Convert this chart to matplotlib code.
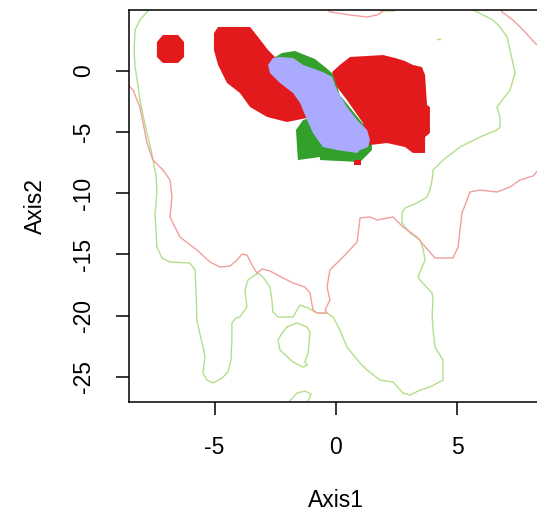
import matplotlib
matplotlib.use("Agg")
from matplotlib import pyplot as plt

plt.rcParams['font.family'] = ['Liberation Sans', 'DejaVu Sans']
plt.rcParams['axes.unicode_minus'] = False

# ---- filled regions (x, y in axis units) ----
red_small_x = [-7.13, -6.51, -6.26, -6.26, -6.51, -7.13, -7.38, -7.38]
red_small_y = [2.92, 2.92, 2.34, 1.12, 0.63, 0.63, 1.12, 2.34]

red_left_x = [-5.03, -4.86, -3.54, -3.21, -2.80, -2.39, -1.90, -1.28, -1.19,
              -2.02, -2.84, -3.54, -3.96, -4.49, -4.86, -5.03]
red_left_y = [3.08, 3.57, 3.57, 2.75, 1.69, 0.87, -0.76, -2.80, -3.86,
              -4.19, -3.78, -2.97, -1.82, -1.00, 0.47, 1.69]

red_right_x = [0.16, 0.58, 1.94, 2.43, 2.84, 3.17, 3.54, 3.67, 3.75, 3.87, 3.87,
               3.67, 3.67, 3.17, 2.84, 2.10, 1.40, 1.11, 0.45, 0.04, -0.16]
red_right_y = [0.47, 1.12, 1.28, 1.04, 0.79, 0.47, 0.30, -0.35, -2.80, -2.97, -5.09,
               -5.42, -6.72, -6.72, -6.23, -5.91, -6.07, -4.27, -2.39, -1.33, -0.11]

red_bit_x = [0.75, 1.05, 1.05, 0.75]
red_bit_y = [-7.30, -7.30, -7.70, -7.70]

green_x = [-2.72, -2.22, -1.69, -1.28, -0.87, -0.45, -0.12, 0.16, 1.48, 1.48, 1.28,
           0.99, -0.66, -0.66, -1.57, -1.65, -1.36, -1.07, -1.48, -2.47]
green_y = [0.87, 1.45, 1.61, 1.28, 0.96, 0.30, -0.27, -1.99, -5.25, -6.48, -6.89,
           -7.46, -7.30, -7.05, -7.30, -4.84, -4.03, -3.86, -1.99, -0.35]

lav_x = [-2.80, -2.60, -2.31, -1.77, -1.36, -0.54, -0.16, 0.04, 0.45, 0.87, 1.28, 1.40,
         1.32, 0.99, 0.87, 0.04, -0.54, -0.95, -1.19, -1.48, -1.77, -2.31, -2.72]
lav_y = [0.47, 1.04, 1.12, 1.04, 0.47, -0.11, -0.51, -1.58, -2.97, -4.03, -4.84, -5.66,
         -6.23, -6.48, -6.72, -6.48, -6.23, -5.09, -4.03, -2.64, -1.82, -1.00, -0.19]

# ---- contour lines ----
gline_x = [-7.66, -7.79, -8.08, -8.28, -8.32, -8.28, -8.16, -8.08, -7.91, -7.79, -7.62,
           -7.54, -7.42, -7.38, -7.42, -7.46, -7.42, -7.38, -7.17, -6.84, -6.02, -5.81,
           -5.77, -5.73, -5.60, -5.48, -5.40, -5.48, -5.32, -5.07, -4.70, -4.45, -4.33,
           -4.29, -4.29, -4.12, -3.96, -3.67, -3.75, -3.63, -3.21, -3.01, -2.72, -2.64,
           -2.60, -2.39, -1.77, -1.48, -1.15, -0.78, -0.37, -0.12, 0.16, 0.45, 0.99,
           1.28, 1.81, 2.35, 2.76, 3.05, 3.46, 3.87, 4.41, 4.41, 4.08, 4.00, 3.96, 4.00,
           3.96, 3.46, 3.38, 3.58, 3.67, 3.58, 3.46, 3.05, 2.72, 2.72, 2.84, 3.34, 3.75,
           3.87, 3.96, 4.00, 4.41, 5.11, 5.93, 6.63, 6.76, 6.76, 6.63, 7.17, 7.38, 7.29,
           7.17, 7.05, 6.76, 6.47, 5.81, 5.52]
gline_y = [5.04, 4.80, 4.14, 3.33, 1.69, 0.30, -1.17, -2.39, -4.03, -5.09, -6.48,
           -7.30, -8.52, -9.75, -10.97, -11.63, -13.01, -14.40, -15.30, -15.63, -15.71,
           -16.28, -17.92, -20.37, -21.59, -22.57, -23.39, -24.70, -25.27, -25.51,
           -25.11, -24.62, -23.64, -22.00, -20.61, -20.20, -20.12, -19.31, -17.92,
           -17.10, -16.53, -16.85, -17.67, -18.73, -19.71, -20.12, -20.12, -19.14,
           -19.39, -19.80, -19.80, -20.12, -21.18, -22.57, -23.88, -24.45, -25.27,
           -25.43, -26.33, -26.50, -26.09, -25.84, -25.27, -23.64, -22.57, -21.18,
           -19.96, -18.73, -18.16, -17.10, -16.85, -15.87, -15.47, -14.49, -13.83,
           -13.26, -12.44, -11.63, -11.22, -10.81, -10.32, -9.75, -8.93, -8.11, -7.30,
           -6.23, -5.42, -4.84, -4.60, -3.78, -2.97, -1.58, -0.19, 0.63, 1.69, 2.75,
           3.57, 4.14, 4.80, 5.12]

gloop_x = [-2.02, -1.61, -1.19, -1.07, -1.15, -1.28, -1.19, -1.36, -1.77, -2.31, -2.39,
           -2.22, -2.02]
gloop_y = [-20.94, -20.61, -20.94, -21.43, -23.06, -23.80, -24.04, -24.21, -23.80,
           -22.82, -22.00, -21.43, -20.94]

gbottom_x = [-2.02, -1.61, -1.28, -1.03, -1.19]
gbottom_y = [-27.23, -26.33, -26.17, -26.41, -27.23]

gtop_x = [1.75, 1.85, 2.40, 2.50]
gtop_y = [5.10, 4.88, 4.88, 5.10]

gdot_x = [4.15, 4.30]
gdot_y = [2.59, 2.59]

pline_x = [-8.69, -8.57, -8.36, -8.20, -8.08, -7.95, -7.79, -7.54, -7.13, -6.84, -6.76,
           -6.84, -6.43, -5.73, -5.19, -4.78, -4.37, -4.08, -3.87, -3.67, -3.46, -3.26,
           -3.05, -2.72, -2.18, -1.77, -1.28, -1.07, -0.95, -0.78, -0.37, -0.45, -0.25,
           -0.37, -0.25, 0.29, 0.87, 0.99, 1.40, 1.69, 2.35, 2.76, 3.34, 3.54, 4.08,
           4.82, 5.03, 5.19, 5.40, 5.52, 5.93, 6.63, 7.17, 7.58, 8.12, 8.61]
pline_y = [-0.76, -1.17, -1.58, -2.39, -2.97, -4.27, -5.91, -7.30, -8.11, -8.93, -10.32,
           -11.95, -13.59, -14.65, -15.63, -16.04, -15.96, -15.47, -14.98, -15.06,
           -15.87, -16.53, -16.20, -16.36, -16.94, -17.34, -17.67, -18.16, -19.55,
           -19.80, -19.80, -19.55, -18.73, -17.67, -16.28, -15.22, -13.99, -12.03,
           -11.95, -12.20, -11.95, -12.77, -13.59, -14.08, -15.30, -15.30, -14.40,
           -11.63, -10.56, -9.91, -9.75, -9.91, -9.50, -8.93, -8.60, -7.46]

ptop_x = [-0.45, -0.25, 0.58, 1.28, 1.69, 1.90, 2.02]
ptop_y = [5.12, 4.80, 4.55, 4.39, 4.55, 4.80, 5.12]

pright_x = [6.76, 6.84, 7.29, 7.71, 8.20, 8.61]
pright_y = [5.12, 4.80, 4.14, 3.33, 2.26, 1.53]

x_ticks = [-5, 0, 5]
y_ticks = [0, -5, -10, -15, -20, -25]

red = '#E31A1C'
green = '#33A02C'
lavender = '#AAAAFF'
pink = '#F29E9E'
lightgreen = '#B2DF8A'

fig = plt.figure(figsize=(5.37, 5.14), dpi=100)
ax = fig.add_axes([129 / 537, 112.3 / 514, 414 / 537, 392.2 / 514])

for xs, ys in [(gline_x, gline_y), (gloop_x, gloop_y), (gbottom_x, gbottom_y),
               (gtop_x, gtop_y), (gdot_x, gdot_y)]:
    ax.plot(xs, ys, color=lightgreen, lw=1.0)
for xs, ys in [(pline_x, pline_y), (ptop_x, ptop_y), (pright_x, pright_y)]:
    ax.plot(xs, ys, color=pink, lw=1.0)

ax.fill(green_x, green_y, color=green, lw=0)
ax.fill(red_bit_x, red_bit_y, color=red, lw=0)
ax.fill(red_left_x, red_left_y, color=red, lw=0)
ax.fill(red_right_x, red_right_y, color=red, lw=0)
ax.fill(red_small_x, red_small_y, color=red, lw=0)
ax.fill(lav_x, lav_y, color=lavender, lw=0)

ax.set_xlim(-8.53, 8.53)
ax.set_ylim(-27.04, 5.0)
ax.set_xticks(x_ticks)
ax.set_yticks(y_ticks)
for s in ax.spines.values():
    s.set_linewidth(1.1)
ax.tick_params(axis='both', direction='out', length=9.4, width=1.1, labelsize=16.5)
ax.tick_params(axis='x', pad=15)
ax.tick_params(axis='y', pad=15)
for lab in ax.get_yticklabels():
    lab.set_rotation(90)
    lab.set_va('center')

ax.set_xlabel('Axis1', fontsize=16.5)
ax.set_ylabel('Axis2', fontsize=16.5)
ax.xaxis.set_label_coords(0.5, -0.222)
ax.yaxis.set_label_coords(-0.198, 0.5)

fig.savefig('out.png', dpi=100)
